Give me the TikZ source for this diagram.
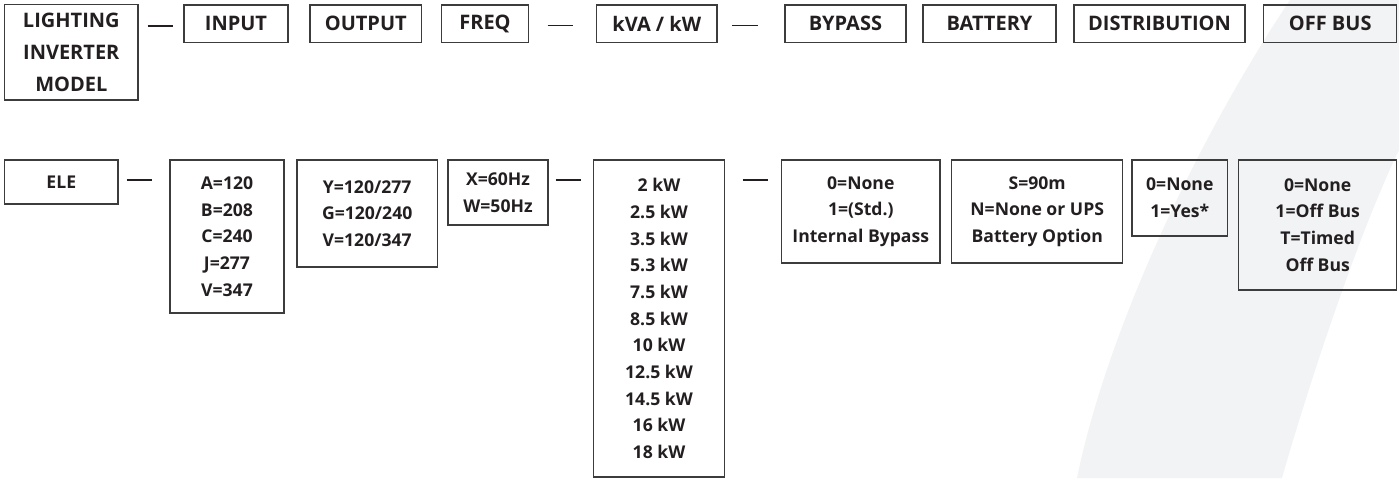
\documentclass[tikz,border=0pt]{standalone}
\usepackage{fontspec}
\setmainfont{Open Sans}
\usepackage{tikz}
\usetikzlibrary{calc,positioning}
\definecolor{ink}{HTML}{231F20}
\definecolor{boxgray}{HTML}{3C3C3C}
\definecolor{swoosh}{HTML}{F2F3F5}

\begin{document}
\begin{tikzpicture}[x=0.5pt,y=-0.5pt,
                    box/.style={draw=boxgray,line width=0.7pt,align=center,inner sep=0pt,
                                text=ink,font=\bfseries\fontsize{8.8}{13.35}\selectfont},
                    head/.style={box,minimum height=18.65pt,font=\bfseries\fontsize{10}{16}\selectfont},
                    link/.style={draw=ink,line width=0.55pt}]

  \useasboundingbox (0,0) rectangle (1399,478);
  \fill[swoosh] (1077,478) .. controls (1105,340) and (1190,150) .. (1290,0)
        -- (1399,0) -- (1399,150) .. controls (1360,230) and (1310,380) .. (1282,478) -- cycle;

  % headings
  \node[head] at(71.3,52.3) (model) [minimum width=66.65pt,minimum height=47.65pt] {LIGHTING\\INVERTER\\MODEL};
  \node[head] at(236,23.6) (input) [minimum width=52pt] {INPUT};
  \node[head] at(365.8,23.6) (output) [minimum width=55.85pt] {OUTPUT};
  \node[head] at(485,23.6) (freq) [minimum width=43.3pt] {FREQ};
  \node[head] at(656.8,23.6) (rating) [minimum width=60.15pt] {kVA / kW};
  \node[head] at(845.5,23.6) (bypass) [minimum width=60.5pt] {BYPASS};
  \node[head] at(989.5,23.6) (battery) [minimum width=66.5pt] {BATTERY};
  \node[head] at(1159.5,23.6) (distrib) [minimum width=85.5pt] {DISTRIBUTION};
  \node[head] at(1330.2,23.6) (offbus) [minimum width=66.5pt] {OFF BUS};

  % options
  \node[box] at(61.3,182) (ele) [minimum width=56.65pt,minimum height=22pt] {ELE};
  \node[box] at(227,236.5) (inopt) [minimum width=57pt,minimum height=76.5pt]
        {A=120\\B=208\\C=240\\J=277\\V=347};
  \node[box] at(367.2,213.5) (outopt) [minimum width=70.15pt,minimum height=53.5pt]
        {Y=120/277\\G=120/240\\V=120/347};
  \node[box] at(498,192.5) (freqopt) [minimum width=50pt,minimum height=32.5pt]
        {X=60Hz\\W=50Hz};
  \node[box] at(659,318.5) (ratingopt) [minimum width=65.3pt,minimum height=158.5pt]
        {2 kW\\2.5 kW\\3.5 kW\\5.3 kW\\7.5 kW\\8.5 kW\\10 kW\\12.5 kW\\14.5 kW\\16 kW\\18 kW};
  \node[box] at(860.8,211.5) (bypassopt) [minimum width=79.15pt,minimum height=51.5pt]
        {0=None\\1=(Std.)\\Internal Bypass};
  \node[box] at(1037.2,211.5) (batteryopt) [minimum width=85.5pt,minimum height=51.5pt]
        {S=90m\\N=None or UPS\\Battery Option};
  \node[box] at(1179.8,198) (distribopt) [minimum width=47.85pt,minimum height=38pt]
        {0=None\\1=Yes*};
  \node[box] at(1317.7,225) (offbusopt) [minimum width=79pt,minimum height=65pt]
        {0=None\\1=Off Bus\\T=Timed\\Off Bus};

  \path ([yshift=-1.2pt]input.west -| model.east) edge[link,shorten <=4.5pt,shorten >=5pt] ([yshift=-1.2pt]input.west)
        ([yshift=-1.05pt]freq.east) edge[link,shorten <=9.35pt,shorten >=11.35pt] ([yshift=-1.05pt]rating.west)
        ([yshift=-1.05pt]rating.east) edge[link,shorten <=7.35pt,shorten >=13.35pt] ([yshift=-1.05pt]bypass.west)
        ([yshift=1pt]ele.east) edge[link,shorten <=4pt,shorten >=8.5pt] ([yshift=1pt]ele.east -| inopt.west)
        ([yshift=6.25pt]freqopt.east) edge[link,shorten <=3.5pt,shorten >=5.85pt] ([yshift=6.25pt]freqopt.east -| ratingopt.west)
        ([yshift=15.75pt]bypassopt.west -| ratingopt.east) edge[link,shorten <=8.85pt,shorten >=6.35pt] ([yshift=15.75pt]bypassopt.west)
        ;

\end{tikzpicture}
\end{document}
